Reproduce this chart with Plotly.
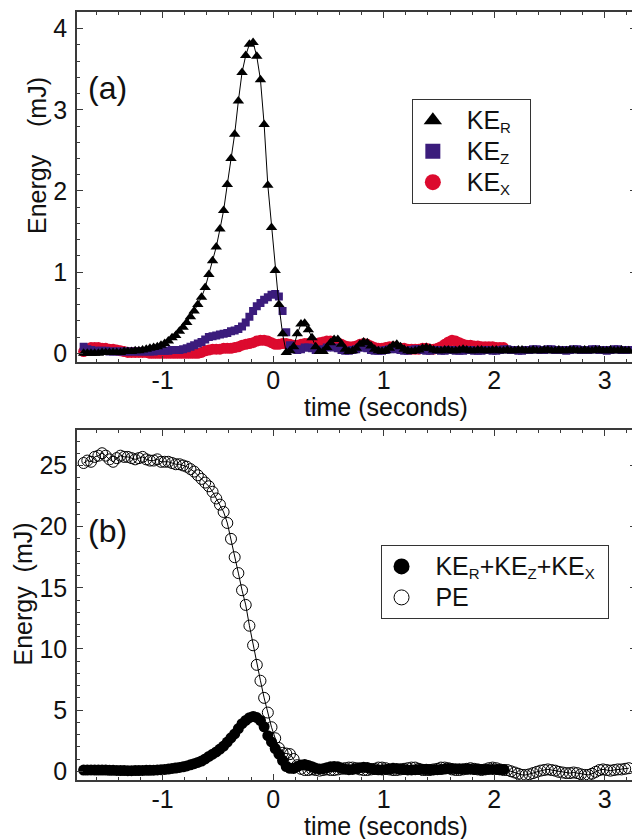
import numpy as np
import plotly.graph_objects as go

# ---------------- data ----------------
T0 = -1.715          # time of first video frame (s)
FRAME_RATE = 30.0    # frames per second

KE_R = [
    0.00, 0.00, 0.00, 0.00, 0.00, 0.01, 0.01, 0.01, 0.01, 0.01,
    0.01, 0.02, 0.02, 0.02, 0.03, 0.03, 0.04, 0.05, 0.06, 0.07,
    0.08, 0.10, 0.12, 0.15, 0.19, 0.22, 0.27, 0.32, 0.38, 0.45,
    0.52, 0.60, 0.69, 0.81, 0.97, 1.14, 1.31, 1.53, 1.76, 2.08,
    2.40, 2.70, 3.11, 3.46, 3.67, 3.81, 3.83, 3.66, 3.37, 2.82,
    2.07, 1.55, 1.02, 0.60, 0.24, 0.01, 0.03, 0.08, 0.24, 0.36,
    0.37, 0.29, 0.19, 0.08, 0.02, 0.02, 0.07, 0.13, 0.17, 0.17,
    0.11, 0.05, 0.02, 0.03, 0.06, 0.11, 0.14, 0.13, 0.09, 0.05,
    0.03, 0.02, 0.03, 0.06, 0.10, 0.11, 0.08, 0.05, 0.03, 0.02,
    0.03, 0.04, 0.06, 0.07, 0.06, 0.04, 0.03, 0.03, 0.04, 0.04,
    0.03, 0.03, 0.04, 0.05, 0.04, 0.03, 0.03, 0.04, 0.04, 0.03,
    0.03, 0.04, 0.04, 0.03, 0.03, 0.04, 0.03, 0.03, 0.04, 0.04,
    0.03, 0.03, 0.04, 0.03, 0.03, 0.04, 0.04, 0.03, 0.03, 0.04,
    0.03, 0.03, 0.04, 0.04, 0.03, 0.03, 0.04, 0.03, 0.03, 0.04,
    0.04, 0.03, 0.03, 0.04, 0.03, 0.03, 0.04, 0.03, 0.03,
]

KE_Z = [
    0.08, 0.05, 0.04, 0.03, 0.03, 0.03, 0.03, 0.02, 0.02, 0.02,
    0.02, 0.02, 0.02, 0.02, 0.02, 0.02, 0.02, 0.02, 0.02, 0.02,
    0.03, 0.03, 0.03, 0.03, 0.04, 0.04, 0.04, 0.05, 0.06, 0.08,
    0.10, 0.12, 0.14, 0.17, 0.20, 0.21, 0.22, 0.23, 0.24, 0.25,
    0.27, 0.28, 0.30, 0.33, 0.38, 0.45, 0.52, 0.58, 0.62, 0.66,
    0.69, 0.72, 0.73, 0.70, 0.52, 0.26, 0.10, 0.05, 0.04, 0.05,
    0.07, 0.07, 0.06, 0.04, 0.04, 0.05, 0.07, 0.08, 0.07, 0.06,
    0.04, 0.03, 0.03, 0.04, 0.05, 0.07, 0.07, 0.06, 0.04, 0.03,
    0.03, 0.03, 0.04, 0.05, 0.06, 0.05, 0.04, 0.03, 0.03, 0.04,
    0.05, 0.05, 0.04, 0.03, 0.03, 0.04, 0.04, 0.03, 0.03, 0.04,
    0.04, 0.03, 0.03, 0.03, 0.04, 0.04, 0.03, 0.03, 0.03, 0.04,
    0.04, 0.03, 0.03, 0.04, 0.05, 0.05, 0.04, 0.04, 0.03, 0.03,
    0.04, 0.04, 0.05, 0.05, 0.04, 0.04, 0.05, 0.05, 0.04, 0.04,
    0.04, 0.03, 0.04, 0.05, 0.05, 0.04, 0.04, 0.04, 0.05, 0.05,
    0.04, 0.04, 0.03, 0.04, 0.05, 0.05, 0.04, 0.04, 0.04,
]

KE_X = [
    0.02, 0.05, 0.07, 0.07, 0.07, 0.06, 0.06, 0.05, 0.05, 0.04,
    0.03, 0.02, 0.01, 0.01, 0.01, 0.01, 0.01, 0.01, 0.00, 0.00,
    0.00, 0.00, 0.00, 0.00, 0.00, 0.00, 0.00, 0.00, 0.00, 0.00,
    0.00, 0.00, 0.01, 0.03, 0.04, 0.05, 0.05, 0.05, 0.06, 0.06,
    0.06, 0.07, 0.08, 0.10, 0.11, 0.12, 0.13, 0.15, 0.16, 0.16,
    0.15, 0.13, 0.11, 0.11, 0.12, 0.12, 0.11, 0.10, 0.10, 0.11,
    0.12, 0.12, 0.12, 0.12, 0.13, 0.14, 0.15, 0.15, 0.14, 0.13,
    0.11, 0.09, 0.08, 0.08, 0.09, 0.11, 0.12, 0.11, 0.09, 0.07,
    0.06, 0.06, 0.07, 0.08, 0.08, 0.07, 0.06, 0.06, 0.05, 0.05,
    0.05, 0.05, 0.06, 0.06, 0.05, 0.05, 0.06, 0.08, 0.11, 0.14,
    0.16, 0.15, 0.13, 0.11, 0.10, 0.10, 0.09, 0.09, 0.08, 0.08,
    0.08, 0.08, 0.07, 0.07, 0.07,
]

PE = [
    25.2, 25.4, 25.3, 25.7, 25.8, 26.0, 25.8, 25.5, 25.3, 25.6,
    25.8, 25.7, 25.7, 25.6, 25.5, 25.6, 25.7, 25.5, 25.4, 25.4,
    25.5, 25.3, 25.3, 25.3, 25.2, 25.1, 25.1, 25.0, 24.9, 24.7,
    24.5, 24.2, 23.9, 23.6, 23.3, 22.85, 22.3, 21.8, 21.2, 20.3,
    19.0, 17.5, 16.2, 14.8, 13.6, 11.9, 10.3, 8.7, 7.4, 6.0,
    4.8, 3.6, 2.7, 1.9, 1.5, 1.45, 1.4, 1.0, 0.5, 0.2,
    0.1, 0.1, 0.15, 0.1, 0.05, 0.1, 0.15, 0.1, 0.1, 0.15,
    0.2, 0.25, 0.3, 0.3, 0.25, 0.15, 0.1, 0.1, 0.15, 0.2,
    0.3, 0.3, 0.25, 0.15, 0.1, 0.1, 0.15, 0.2, 0.25, 0.3,
    0.3, 0.2, 0.1, 0.1, 0.1, 0.15, 0.2, 0.3, 0.3, 0.25,
    0.15, 0.1, 0.1, 0.15, 0.2, 0.25, 0.2, 0.15, 0.1, 0.15,
    0.25, 0.3, 0.25, 0.15, 0.1, 0.1, 0.0, -0.1, -0.2, -0.3,
    -0.3, -0.25, -0.15, -0.05, 0.05, 0.1, 0.15, 0.1, 0.05, -0.05,
    -0.1, -0.15, -0.15, -0.1, -0.15, -0.25, -0.3, -0.3, -0.2, -0.05,
    0.1, 0.15, 0.1, 0.05, 0.1, 0.15, 0.15, 0.2, 0.25,
]

X_TICKS = [-1, 0, 1, 2, 3]
X_TICK_TEXT = ["-1", "0", "1", "2", "3"]
YA_TICKS = [0, 1, 2, 3, 4]
YB_TICKS = [0, 5, 10, 15, 20, 25]

# ---------------- derived ----------------
t_all = T0 + np.arange(len(KE_R)) / FRAME_RATE
n_x = len(KE_X)
t_x = t_all[:n_x]
KE_SUM = (np.array(KE_R[:n_x]) + np.array(KE_Z[:n_x]) + np.array(KE_X)).tolist()

FONT = "Liberation Sans, Arial, sans-serif"
RED = "#dc0a2e"
PURPLE = "#3b1c7c"
AX = "#3a3a3a"
TXT = "#111"

fig = go.Figure()

# ---- panel (a) ----
fig.add_trace(go.Scatter(x=t_x, y=KE_X, mode="markers", xaxis="x", yaxis="y",
                         marker=dict(symbol="circle", size=11, color=RED),
                         showlegend=False))
fig.add_trace(go.Scatter(x=t_all, y=KE_Z, mode="markers", xaxis="x", yaxis="y",
                         marker=dict(symbol="square", size=8, color=PURPLE),
                         showlegend=False))
fig.add_trace(go.Scatter(x=t_all, y=KE_R, mode="lines+markers", xaxis="x", yaxis="y",
                         line=dict(color="black", width=1),
                         marker=dict(symbol="triangle-up", size=10, color="black"),
                         showlegend=False))

# legend entries
NB = "\u00a0"
sub = '<sub><span style="font-size:15px">{}</span></sub>'


def big(s):
    return '<span style="font-size:25px">' + s + '</span>'


fig.add_trace(go.Scatter(x=[None], y=[None], mode="markers", xaxis="x", yaxis="y",
                         marker=dict(symbol="triangle-up", size=16, color="black"),
                         name=big(NB * 2 + "KE") + sub.format("R") + big(NB * 2), legend="legend"))
fig.add_trace(go.Scatter(x=[None], y=[None], mode="markers", xaxis="x", yaxis="y",
                         marker=dict(symbol="square", size=15, color=PURPLE),
                         name=big(NB * 2 + "KE") + sub.format("Z") + big(NB * 2), legend="legend"))
fig.add_trace(go.Scatter(x=[None], y=[None], mode="markers", xaxis="x", yaxis="y",
                         marker=dict(symbol="circle", size=16, color=RED),
                         name=big(NB * 2 + "KE") + sub.format("X") + big(NB * 2), legend="legend"))

# ---- panel (b) ----
fig.add_trace(go.Scatter(x=t_x, y=KE_SUM, mode="markers", xaxis="x2", yaxis="y2",
                         marker=dict(symbol="circle", size=11, color="black"),
                         showlegend=False))
fig.add_trace(go.Scatter(x=t_all, y=PE, mode="lines+markers", xaxis="x2", yaxis="y2",
                         line=dict(color="black", width=1),
                         marker=dict(symbol="circle-open", size=11, color="black",
                                     line=dict(width=1, color="black")),
                         showlegend=False))

fig.add_trace(go.Scatter(x=[None], y=[None], mode="markers", xaxis="x2", yaxis="y2",
                         marker=dict(symbol="circle", size=16, color="black"),
                         name=big(NB * 2 + "KE") + sub.format("R") + big("+KE") + sub.format("Z")
                         + big("+KE") + sub.format("X") + big(NB),
                         legend="legend2"))
fig.add_trace(go.Scatter(x=[None], y=[None], mode="markers", xaxis="x2", yaxis="y2",
                         marker=dict(symbol="circle-open", size=15, color="black",
                                     line=dict(width=1, color="black")),
                         name=big(NB * 2 + "PE"), legend="legend2"))

common_x = dict(range=[-1.775, 3.283], tickmode="array", tickvals=X_TICKS, ticktext=X_TICK_TEXT,
                showline=True, linecolor=AX, linewidth=1.5, mirror="ticks",
                ticks="inside", ticklen=6, tickwidth=1, tickcolor=AX,
                ticklabelstandoff=-4,
                minor=dict(tickmode="linear", tick0=0, dtick=0.2, ticks="inside",
                           ticklen=3, tickcolor=AX),
                showgrid=False, zeroline=False,
                tickfont=dict(family=FONT, size=25, color=TXT))
common_y = dict(showline=True, linecolor=AX, linewidth=1.5, mirror="ticks",
                ticks="inside", ticklen=6, tickwidth=1, tickcolor=AX,
                ticklabelstandoff=3,
                showgrid=False, zeroline=False, tickmode="array",
                tickfont=dict(family=FONT, size=25, color=TXT))

DOM_A = [0.5449, 1.0]
DOM_B = [0.0, 0.4551]

# the page body adds an 8px offset, so the figure is 8px smaller and margins shifted
fig.update_layout(
    width=632, height=831,
    margin=dict(l=69, r=2, t=3, b=59),
    paper_bgcolor="white", plot_bgcolor="white",
    font=dict(family=FONT, size=24, color=TXT),
    xaxis=dict(common_x, domain=[0, 1], anchor="y"),
    yaxis=dict(common_y, domain=DOM_A, anchor="x", range=[-0.102, 4.206],
               tickvals=YA_TICKS,
               minor=dict(tickmode="linear", tick0=0, dtick=0.2, ticks="inside",
                          ticklen=3, tickcolor=AX)),
    xaxis2=dict(common_x, domain=[0, 1], anchor="y2"),
    yaxis2=dict(common_y, domain=DOM_B, anchor="x2", range=[-0.714, 27.86],
                tickvals=YB_TICKS,
                minor=dict(tickmode="linear", tick0=0, dtick=1, ticks="inside",
                           ticklen=3, tickcolor=AX)),
    legend=dict(x=0.599, y=0.887, xanchor="left", yanchor="top",
                bordercolor="#333", borderwidth=1, bgcolor="white",
                font=dict(family=FONT, size=21.5, color=TXT),
                itemwidth=30, tracegroupgap=0),
    legend2=dict(x=0.543, y=0.306, xanchor="left", yanchor="top",
                 bordercolor="#333", borderwidth=1, bgcolor="white",
                 font=dict(family=FONT, size=21.5, color=TXT),
                 itemwidth=30, tracegroupgap=0),
    showlegend=True,
)

for txt, ax_, ay_, fsz, ang in [
    ("(a)", 0.0553, 0.901, 32, 0),
    ("(b)", 0.0553, 0.3238, 32, 0),
    ("Energy" + NB * 4 + "(mJ)", -0.0713, 0.8127, 25, -90),
    ("Energy" + NB * 2 + "(mJ)", -0.0971, 0.2425, 25, -90),
    ("time (seconds)", 0.5526, 0.4855, 25, 0),
    ("time (seconds)", 0.5526, -0.0598, 25, 0),
]:
    fig.add_annotation(text=txt, x=ax_, y=ay_, xref="paper", yref="paper",
                       xanchor="center", yanchor="middle", textangle=ang,
                       showarrow=False, font=dict(family=FONT, size=fsz, color=TXT))

fig.write_html("out.html")
